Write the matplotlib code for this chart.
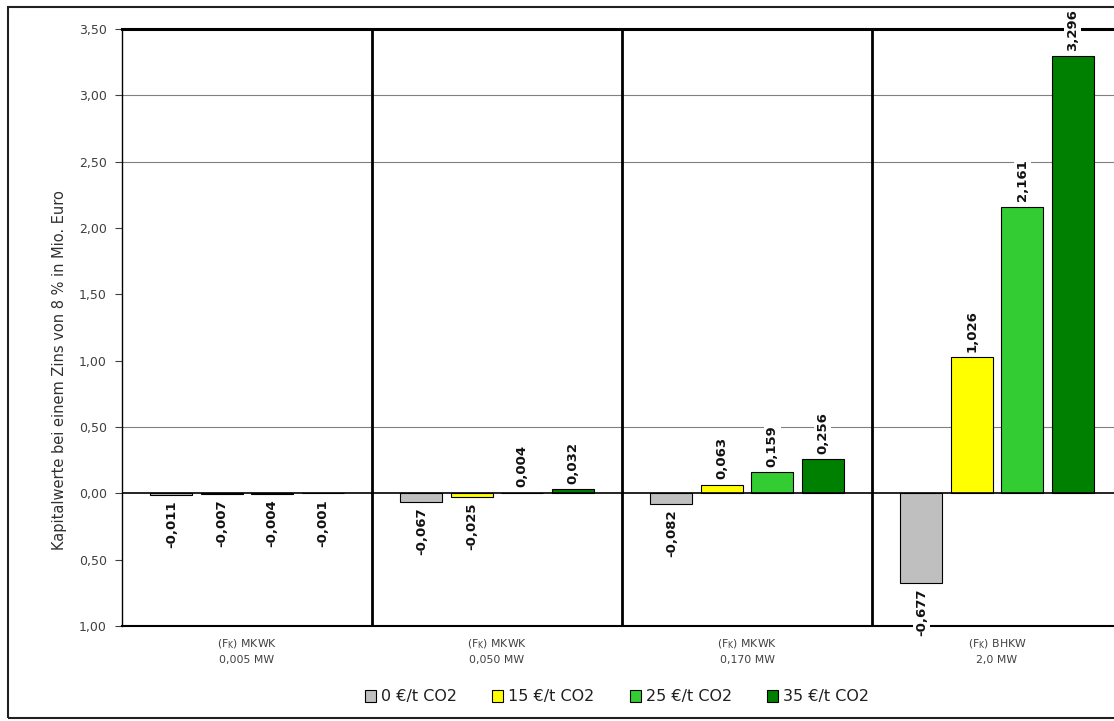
import matplotlib
matplotlib.use("Agg")
import matplotlib.pyplot as plt
from matplotlib.patches import Rectangle, Patch
import numpy as np

categories = ["(F$_\\mathregular{K}$) MKWK\n0,005 MW", "(F$_\\mathregular{K}$) MKWK\n0,050 MW",
              "(F$_\\mathregular{K}$) MKWK\n0,170 MW", "(F$_\\mathregular{K}$) BHKW\n2,0 MW"]
series_names = ["0 €/t CO2", "15 €/t CO2", "25 €/t CO2", "35 €/t CO2"]
v0 = [-0.011, -0.067, -0.082, -0.677]
v15 = [-0.007, -0.025, 0.063, 1.026]
v25 = [-0.004, 0.004, 0.159, 2.161]
v35 = [-0.001, 0.032, 0.256, 3.296]
series = [v0, v15, v25, v35]
colors = ["#BFBFBF", "#FFFF00", "#33CC33", "#008000"]
yticks = [-1.0, -0.5, 0.0, 0.5, 1.0, 1.5, 2.0, 2.5, 3.0, 3.5]
grid_y = [0.5, 2.5, 3.0]

W, H = 1114, 721
fig = plt.figure(figsize=(W / 100, H / 100), dpi=100)
ax = fig.add_axes([122 / W, 95 / H, 1000 / W, 597 / H])

# figure border
fig.patches.append(Rectangle((8 / W, 3 / H), 1.2, 711 / H, transform=fig.transFigure,
                             fill=False, edgecolor="#202020", lw=1.5, zorder=0))

x = np.arange(len(categories)) + 0.5
offsets = [-0.303, -0.101, 0.101, 0.303]
width = 0.168
for vals, off, col in zip(series, offsets, colors):
    bars = ax.bar(x + off, vals, width=width, color=col, edgecolor="black", lw=0.8, zorder=3)
    for b, v in zip(bars, vals):
        txt = f"{v:.3f}".replace(".", ",")
        if v >= 0:
            ax.annotate(txt, (b.get_x() + b.get_width() / 2, v), xytext=(0, 4),
                        textcoords="offset points", rotation=90, ha="center", va="bottom",
                        fontsize=9.5, fontweight="bold", color="#111111", zorder=5,
                        bbox=dict(facecolor="white", edgecolor="none", pad=1.5))
        else:
            ax.annotate(txt, (b.get_x() + b.get_width() / 2, v), xytext=(0, -4),
                        textcoords="offset points", rotation=90, ha="center", va="top",
                        fontsize=9.5, fontweight="bold", color="#111111", zorder=5,
                        bbox=dict(facecolor="white", edgecolor="none", pad=1.5))

ax.set_xlim(0, 4)
ax.set_ylim(-1.0, 3.5)
ax.set_yticks(yticks)
ax.set_yticklabels([f"{abs(t):.2f}".replace(".", ",") for t in yticks],
                   fontsize=9, color="#404040")
ax.tick_params(axis="y", length=5, width=0.8, color="#404040", pad=6)
ax.set_xticks([])

for gy in grid_y:
    ax.axhline(gy, color="#808080", lw=0.8, zorder=1)
ax.axhline(0, color="black", lw=1.2, zorder=4)
ax.axhline(3.5, color="black", lw=2.2, zorder=4, clip_on=False)
for sx in [1, 2, 3]:
    ax.axvline(sx, color="black", lw=2, zorder=4)

for s in ["top", "right"]:
    ax.spines[s].set_visible(False)
ax.spines["left"].set_linewidth(1.0)
ax.spines["bottom"].set_linewidth(1.5)

for xi, lab in zip(x, categories):
    ax.text(xi, -1.085, lab, ha="center", va="top", fontsize=7.8, color="#404040",
            linespacing=1.5, transform=ax.transData)

fig.text(60 / W, 1 - 370 / H, "Kapitalwerte bei einem Zins von 8 % in Mio. Euro",
         rotation=90, ha="center", va="center", fontsize=10.5, color="#303030")

handles = [Patch(facecolor=c, edgecolor="black", lw=0.8) for c in colors]
fig.legend(handles, series_names, loc="center", bbox_to_anchor=(617 / W, 1 - 697 / H),
           ncol=4, frameon=False, fontsize=11.5, handlelength=0.7, handleheight=0.7,
           handletextpad=0.3, columnspacing=2.2, labelcolor="#202020")

fig.savefig("out.png", dpi=100)
